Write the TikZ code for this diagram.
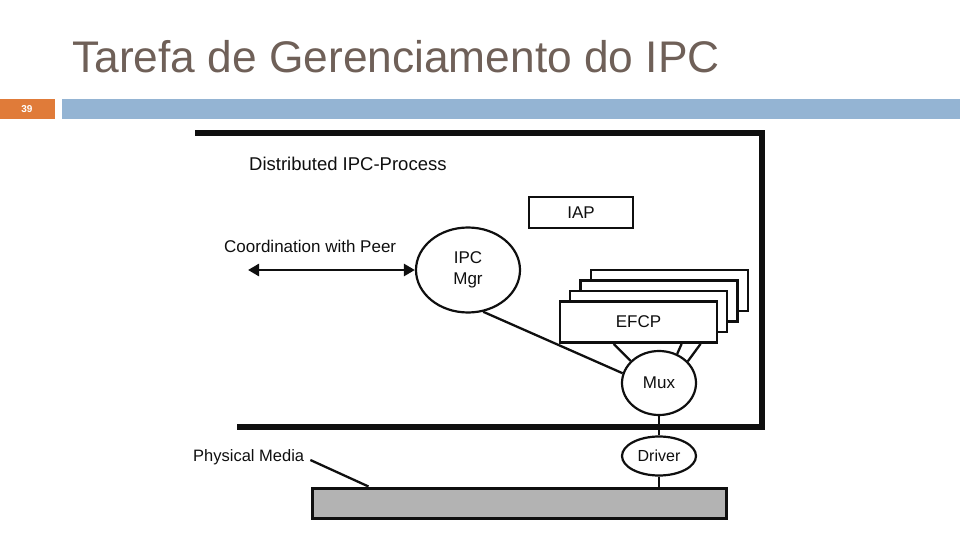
\documentclass[tikz,border=0pt]{standalone}
\usepackage{fontspec}
\setmainfont{Liberation Sans}
\usetikzlibrary{shapes.geometric,arrows.meta,calc}
\definecolor{titlecol}{RGB}{111,96,88}
\definecolor{barblue}{RGB}{148,180,211}
\definecolor{barorange}{RGB}{224,123,57}
\definecolor{ink}{RGB}{15,15,15}
\definecolor{mediagray}{RGB}{179,179,179}
\tikzset{
  box/.style={draw=ink, line width=2.8pt, fill=white, minimum width=157pt, minimum height=41pt, inner sep=0pt},
  iapbox/.style={draw=ink, line width=2.6pt, fill=white, minimum width=104pt, minimum height=31pt, inner sep=0pt},
  oval/.style={draw=ink, ellipse, line width=2.2pt, fill=white, inner sep=0pt},
  lbl/.style={text=ink, font=\fontsize{17}{20}\selectfont},
  conn/.style={draw=ink, line width=2.3pt},
}
\begin{document}
\begin{tikzpicture}[x=1pt,y=-1pt]
\useasboundingbox (0,0) rectangle (960,540);
% header
\node[anchor=base west, inner sep=0pt, text=titlecol, font=\fontsize{44.3}{50}\selectfont] (title) at (72,73) {Tarefa de Gerenciamento do IPC};
\fill[barorange] (0,99) rectangle (55,119);
\fill[barblue] (62,99) rectangle (960,119);
\node[text=white, font=\fontsize{10}{12}\selectfont\bfseries] (num) at (27,109) {39};
% frame
\draw[ink, line width=6.5pt, line join=miter] (195,133) -- (762,133) -- (762,427) -- (237,427);
\node[anchor=west, inner sep=0pt, text=ink, font=\fontsize{18.5}{22}\selectfont] (dip) at (249,164) {Distributed IPC-Process};
% IAP
\node[iapbox] (iap) at (581,212.5) {};
\node[lbl] at (iap) {IAP};
% IPC Mgr
\node[oval, minimum width=104pt, minimum height=85pt] (mgr) at (468,270) {};
\node[lbl, align=center] at (468,270) {IPC\\[1.5pt]Mgr};
\coordinate (peer) at (248,270);
\draw[ink, line width=2.6pt, {Triangle[length=11pt,width=12pt]}-{Triangle[length=11pt,width=12pt]}] (peer) -- (mgr.west);
\node[lbl, anchor=west, inner sep=0pt] (coord) at (224,246) {Coordination with Peer};
% EFCP stack
\node[box] (e3) at (669.5,290.5) {};
\node[box] (e2) at (659,301) {};
\node[box] (e1) at (648.5,311.5) {};
\node[box] (efcp) at (638.5,322) {};
\node[lbl] at (efcp) {EFCP};
% Mux
\node[oval, minimum width=74pt, minimum height=64pt] (mux) at (659,383) {};
\node[lbl] at (mux) {Mux};
\draw[conn] ($(efcp.south west)+(55,0)$) -- (mux.142);
\draw[conn] ($(efcp.south west)+(123,0)$) -- (mux.58);
\draw[conn] ($(efcp.south west)+(142,0)$) -- (mux.37);
\draw[conn] (mgr.290) -- (mux.165);
% Driver
\node[oval, minimum width=74pt, minimum height=39pt] (driver) at (659,456) {};
\node[lbl, font=\fontsize{16}{19}\selectfont] at (driver) {Driver};
\draw[conn] (mux.south) -- (driver.north);
% Physical media
\node[draw=ink, line width=3pt, fill=mediagray, minimum width=414pt, minimum height=30pt, inner sep=0pt] (media) at (519,503) {};
\draw[conn] (driver.south) -- (media.north -| driver.south);
\node[lbl, anchor=west, inner sep=0pt, font=\fontsize{16.5}{19}\selectfont] (pm) at (193,457) {Physical Media};
\draw[conn] ($(pm.east)+(6,3)$) -- ($(media.north west)+(58,0)$);
\end{tikzpicture}
\end{document}
